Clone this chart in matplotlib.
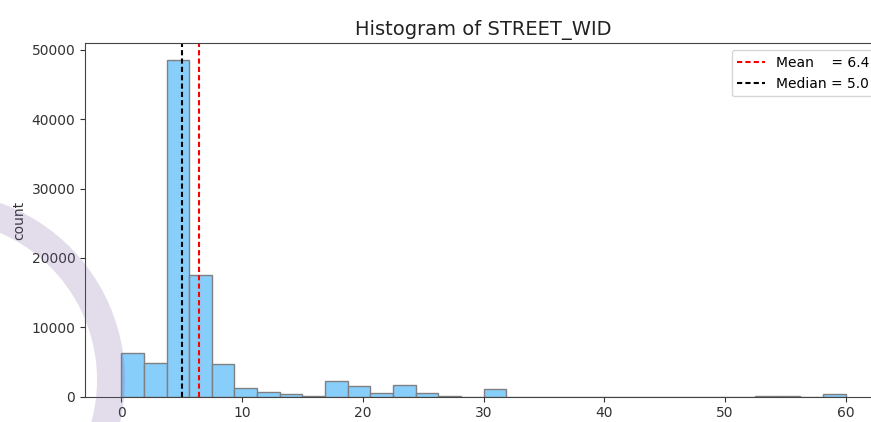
import numpy as np
import matplotlib
matplotlib.use("Agg")
import matplotlib.pyplot as plt
from matplotlib.patches import Wedge

# bin edges: 32 bins from 0 to 60
bin_lo = 0.0
bin_hi = 60.0
n_bins = 32
counts = [6300, 4900, 48500, 17500, 4700, 1200, 650, 320,
          60, 2300, 1600, 550, 1700, 600, 150, 20,
          1050, 10, 0, 0, 0, 0, 0, 0,
          0, 0, 0, 0, 30, 30, 20, 350]
mean_val = 6.4
median_val = 5.0

edges = np.linspace(bin_lo, bin_hi, n_bins + 1)
centers = (edges[:-1] + edges[1:]) / 2

fig = plt.figure(figsize=(8.71, 4.22), dpi=100, facecolor="white")
# axes run a little past the right edge (reference is cropped there)
ax = fig.add_axes([85 / 871, 25.3 / 422, 797 / 871, 353.4 / 422])

ax.hist(centers, bins=edges, weights=counts, color="lightskyblue",
        edgecolor="grey", linewidth=1.0)
ax.axvline(mean_val, color="red", linestyle=(0, (2.5, 1.5)), linewidth=1.5,
           label="Mean    = %.1f" % mean_val)
ax.axvline(median_val, color="black", linestyle=(0, (2.5, 1.5)), linewidth=1.5,
           label="Median = %.1f" % median_val)

ax.set_xticks([0, 10, 20, 30, 40, 50, 60])
ax.set_yticks([0, 10000, 20000, 30000, 40000, 50000])
ax.tick_params(labelsize=10, colors="#333333")
for s in ax.spines.values():
    s.set_color("#444444")
ax.set_ylabel("count", fontsize=10, color="#333333")
ax.set_title("Histogram of STREET_WID", fontsize=14, color="#222222")
ax.legend(loc="upper right", fontsize=10)

# faint purple arc from the screenshot background
arc = Wedge((-0.63, 0.42), 1.88, -25, 85, width=0.28,
            transform=fig.dpi_scale_trans, facecolor=(0.45, 0.35, 0.62),
            alpha=0.2, edgecolor="none", zorder=10)
fig.patches.append(arc)

fig.savefig("out.png", dpi=100)
